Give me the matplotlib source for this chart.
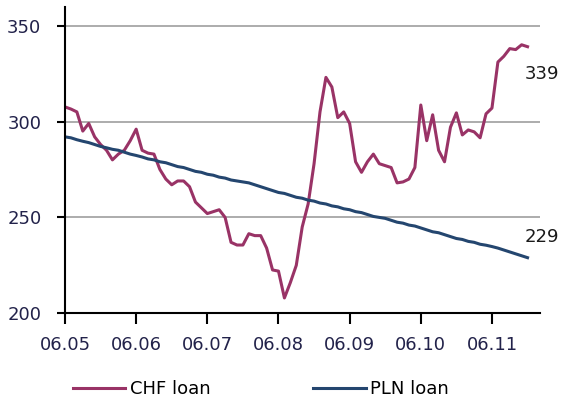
import matplotlib
matplotlib.use("Agg")
import matplotlib.pyplot as plt
import numpy as np

# Monthly observations (index 0 = 06.05)
chf_loan = [307.6, 306.5, 305, 295, 299, 292, 288, 285, 280, 283,
            285, 290, 296, 285, 283.5, 283, 275, 270, 267, 269,
            269, 266, 258, 255, 252, 253, 254, 250, 237, 235.6,
            235.6, 241.5, 240.5, 240.5, 234, 222.6, 222, 208, 216, 225,
            245, 257, 278, 305, 323, 318, 302, 305, 299, 279,
            273.5, 279, 283, 278, 277, 276, 268, 268.5, 270, 276,
            308.6, 290, 303.5, 285, 279, 297, 304.5, 293, 295.6, 294.6,
            291.5, 304, 307, 331, 334, 338, 337.5, 340, 339]
pln_loan = [292, 291.5, 290.5, 289.7, 289, 288, 287, 286.3, 285.5, 285,
            284, 283, 282.3, 281.5, 280.5, 280, 279, 278.5, 277.5, 276.5,
            276, 275, 274, 273.5, 272.5, 272, 271, 270.5, 269.5, 269,
            268.5, 268, 267, 266, 265, 264, 263, 262.5, 261.5, 260.5,
            260, 259, 258.5, 257.5, 257, 256, 255.5, 254.5, 254, 253,
            252.5, 251.5, 250.5, 250, 249.5, 248.5, 247.5, 247, 246, 245.5,
            244.5, 243.5, 242.5, 242, 241, 240, 239, 238.5, 237.5, 237,
            236, 235.5, 234.8, 234, 233, 232, 231, 230, 229]
tick_labels = ["06.05", "06.06", "06.07", "06.08", "06.09", "06.10", "06.11"]
y_ticks = [200, 250, 300, 350]
series_names = ["CHF loan", "PLN loan"]
end_labels = ["339", "229"]

CHF_COLOR = "#993366"
PLN_COLOR = "#24466f"
TXT_COLOR = "#22224a"

plt.rcParams["font.family"] = ["DejaVu Sans"]

fig = plt.figure(figsize=(5.62, 3.99), dpi=100)
ax = fig.add_axes([65/562, 1 - 313.3/399, (540-65)/562, (313.3-7)/399])

months = np.arange(len(chf_loan))
l1, = ax.plot(months, chf_loan, color=CHF_COLOR, lw=2.2, solid_joinstyle="round")
l2, = ax.plot(months, pln_loan, color=PLN_COLOR, lw=2.2, solid_joinstyle="round")

ax.set_xlim(0, 80.1)
ax.set_ylim(200, 359.7)
ax.set_yticks(y_ticks)
ax.set_xticks(np.arange(len(tick_labels)) * 12)
ax.set_xticklabels(tick_labels)

for v in y_ticks[1:]:
    ax.axhline(v, color="#a6a6a6", lw=1.3, zorder=0)

for s in ["top", "right"]:
    ax.spines[s].set_visible(False)
for s in ["left", "bottom"]:
    ax.spines[s].set_linewidth(1.5)
    ax.spines[s].set_color("black")

ax.tick_params(axis="y", direction="out", length=6, width=1.5, pad=11,
               labelsize=13, labelcolor=TXT_COLOR)
ax.tick_params(axis="x", direction="out", length=8, width=1.5, pad=8,
               labelsize=13, labelcolor=TXT_COLOR)

ax.annotate(end_labels[0], (months[-1], chf_loan[-1]), xytext=(-2, -20),
            textcoords="offset points", ha="left", va="center",
            fontsize=13, color="#1a1a1a", annotation_clip=False)
ax.annotate(end_labels[1], (months[-1], pln_loan[-1]), xytext=(-2, 15),
            textcoords="offset points", ha="left", va="center",
            fontsize=13, color="#1a1a1a", annotation_clip=False)

fig.legend([l1, l2], series_names, loc="center left",
           bbox_to_anchor=(73/562, 1 - 389/399), ncol=2, frameon=False,
           fontsize=13, handlelength=2.9, handletextpad=0.25,
           columnspacing=5.7, borderpad=0, borderaxespad=0)

fig.savefig("out.png", dpi=100)
